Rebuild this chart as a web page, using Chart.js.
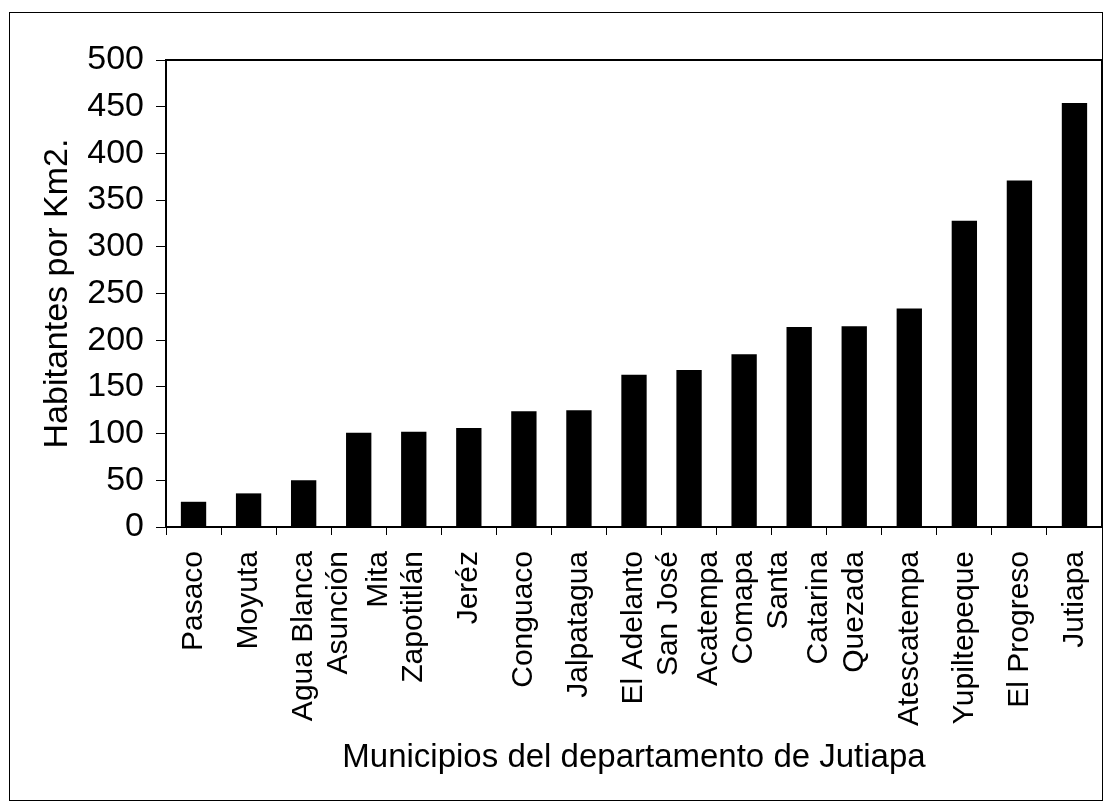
<!DOCTYPE html>
<html><head><meta charset="utf-8">
<script src="https://cdn.jsdelivr.net/npm/chart.js@4/dist/chart.umd.min.js"></script>
<style>html,body{margin:0;padding:0;background:#fff}#wrap{width:1111px;height:811px;position:relative}</style>
</head><body><div id="wrap"><canvas id="c" width="1111" height="811"></canvas></div>
<script>
const categories = [
  "Pasaco", "Moyuta", "Agua Blanca", ["Asunción", "Mita"], "Zapotitlán", "Jeréz",
  "Conguaco", "Jalpatagua", "El Adelanto", ["San José", "Acatempa"], "Comapa",
  ["Santa", "Catarina"], "Quezada", "Atescatempa", "Yupiltepeque", "El Progreso", "Jutiapa"
];
const density = [27, 36, 50, 101, 102, 106, 124, 125, 163, 168, 185, 214, 215, 234, 328, 371, 454];
const yTicks = [0, 50, 100, 150, 200, 250, 300, 350, 400, 450, 500];
const yTitle = "Habitantes por Km2.";
const xTitle = "Municipios del departamento de Jutiapa";

const FONT = "'Liberation Sans', Arial, sans-serif";

const framePlugin = {
  id: 'frame',
  beforeDraw(chart) {
    // centre multi-line rotated category labels on their bars
    const items = chart.scales.x.getLabelItems();
    items.forEach(it => {
      if (Array.isArray(it.label) && it.label.length > 1) {
        it.options.translation[0] -= (it.label.length - 1) * it.font.lineHeight / 2;
      }
    });
  },
  afterDraw(chart) {
    const ctx = chart.ctx, a = chart.chartArea;
    ctx.save();
    ctx.strokeStyle = '#000';
    ctx.lineWidth = 2;
    ctx.beginPath();
    ctx.moveTo(a.left, a.top);
    ctx.lineTo(a.right, a.top);
    ctx.lineTo(a.right, a.bottom);
    ctx.stroke();
    ctx.lineWidth = 1;
    ctx.strokeRect(9.5, 12.5, 1093, 788);
    ctx.restore();
  }
};

new Chart(document.getElementById('c'), {
  type: 'bar',
  data: {
    labels: categories,
    datasets: [{
      data: density,
      backgroundColor: '#000',
      borderWidth: 0,
      categoryPercentage: 1,
      barPercentage: 0.46
    }]
  },
  options: {
    responsive: false,
    animation: false,
    devicePixelRatio: 1,
    layout: { padding: { left: 10, top: 60, right: 9, bottom: 11 } },
    plugins: { legend: { display: false }, tooltip: { enabled: false } },
    scales: {
      x: {
        afterFit(s) { s.height = 273; s.paddingLeft = 0; s.paddingRight = 0; },
        border: { display: true, color: '#000', width: 2 },
        grid: { drawOnChartArea: false, drawTicks: true, tickLength: 8, color: '#000', offset: true },
        ticks: {
          color: '#000', minRotation: 90, maxRotation: 90, autoSkip: false, padding: 16,
          font: { family: FONT, size: 30, lineHeight: 1.33 }
        },
        title: { display: true, text: xTitle, color: '#000', padding: { top: 0, bottom: 22 },
          font: { family: FONT, size: 33 } }
      },
      y: {
        min: 0, max: 500,
        afterFit(s) { s.width = 156; },
        afterBuildTicks(s) { s.ticks = yTicks.map(v => ({ value: v })); },
        border: { display: true, color: '#000', width: 2 },
        grid: { drawOnChartArea: false, drawTicks: true, tickLength: 10, color: '#000' },
        ticks: { color: '#000', padding: 12, font: { family: FONT, size: 34 } },
        title: { display: true, text: yTitle, color: '#000', padding: { top: 27, bottom: 0 },
          font: { family: FONT, size: 34 } }
      }
    }
  },
  plugins: [framePlugin]
});
</script></body></html>
